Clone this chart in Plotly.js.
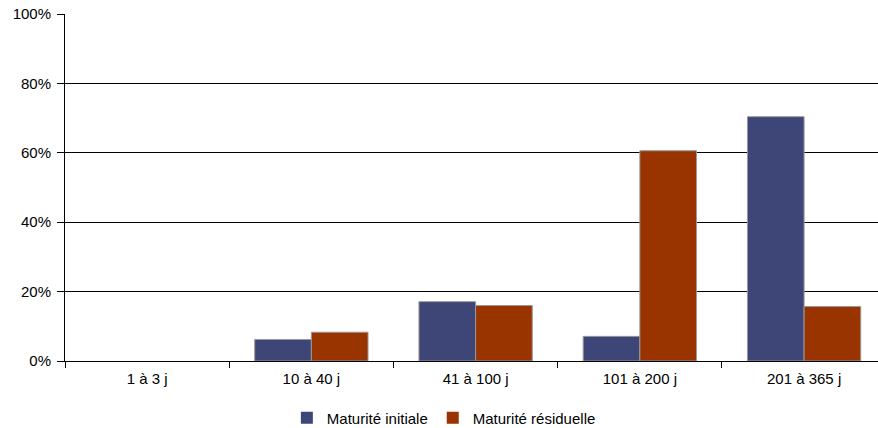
<!DOCTYPE html>
<html><head><meta charset="utf-8">
<script src="https://cdn.plot.ly/plotly-3.0.1.min.js"></script>
<style>html,body{margin:0;padding:0;background:#fff}#chart{width:878px;height:428px}</style>
</head><body><div id="chart"></div>
<script>
const categories = ["1 à 3 j", "10 à 40 j", "41 à 100 j", "101 à 200 j", "201 à 365 j"];
const initiale = [0, 6.2, 17.1, 7.1, 70.4];
const residuelle = [0, 8.3, 16.0, 60.6, 15.7];
const yTickVals = [0, 20, 40, 60, 80, 100];
const yTickText = ["0%", "20%", "40%", "60%", "80%", "100%"];

function outline(vals) { return vals.map(v => v > 0 ? 1 : 0); }

const traces = [
  {type: "bar", name: "Maturité initiale", x: categories, y: initiale,
   marker: {color: "#3d4677", line: {color: "#9a9a9a", width: outline(initiale)}}},
  {type: "bar", name: "Maturité résiduelle", x: categories, y: residuelle,
   marker: {color: "#993300", line: {color: "#9a9a9a", width: outline(residuelle)}}}
];
const layout = {
  width: 878, height: 428,
  margin: {l: 65, r: 0, t: 14, b: 67, autoexpand: false},
  paper_bgcolor: "#fff", plot_bgcolor: "#fff",
  font: {family: "Liberation Sans, Arial, sans-serif", size: 15, color: "#000"},
  barmode: "group", bargap: 0.31, bargroupgap: 0,
  showlegend: true,
  legend: {orientation: "h", x: 0.466, xanchor: "center", y: -0.164, yanchor: "middle",
           font: {size: 15}},
  xaxis: {type: "category", range: [-0.5, 4.45], tickson: "boundaries",
          ticks: "outside", ticklen: 6, tickcolor: "#000", tickwidth: 1,
          showline: true, linecolor: "#000", linewidth: 1, showgrid: false,
          tickfont: {size: 15}, ticklabelstandoff: 4, fixedrange: true},
  yaxis: {range: [0, 100], tickvals: yTickVals, ticktext: yTickText,
          ticks: "outside", ticklen: 7, tickcolor: "#000",
          showline: true, linecolor: "#000", linewidth: 1,
          showgrid: true, gridcolor: "#000", gridwidth: 1, zeroline: false,
          tickfont: {size: 15}, ticklabelstandoff: 3, fixedrange: true}
};
Plotly.newPlot("chart", traces, layout, {displayModeBar: false, staticPlot: true});
</script></body></html>
